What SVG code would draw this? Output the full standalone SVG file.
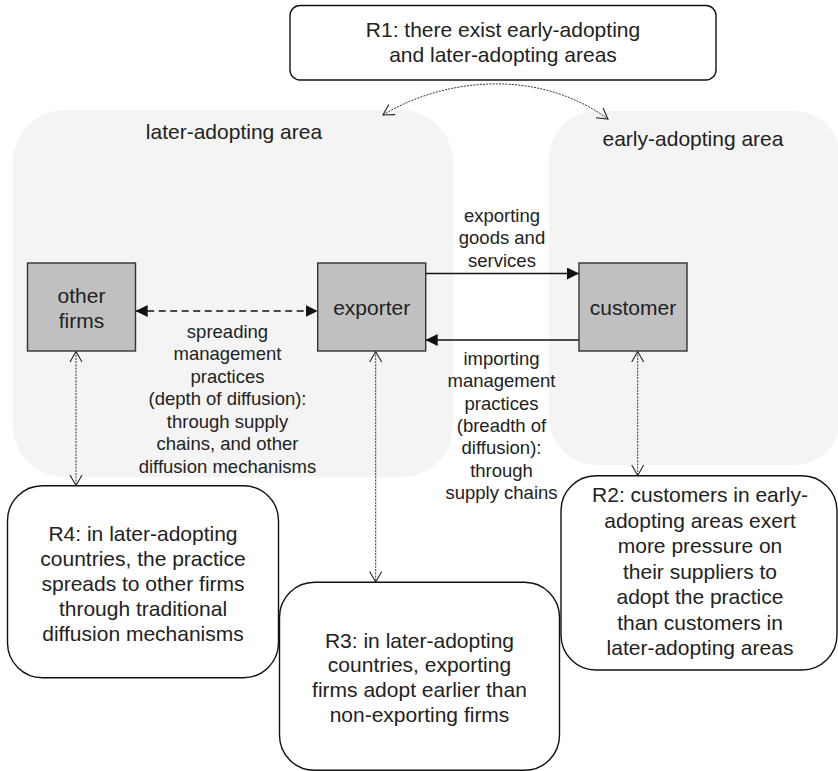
<svg xmlns="http://www.w3.org/2000/svg" width="838" height="771" viewBox="0 0 838 771">
  <style>
    text { font-family: "Liberation Sans", Arial, Helvetica, sans-serif; fill: #222; text-anchor: middle; }
    .area { fill: #f4f4f4; stroke: none; }
    .area-label { font-size: 21px; }
    .firm { fill: #c0c0c0; stroke: #333; stroke-width: 1.4; }
    .firm-label { font-size: 21px; }
    .claim { fill: #fff; stroke: #111; stroke-width: 1.4; }
    .claim-label { font-size: 21px; }
    .edge-label { font-size: 18.5px; }
    .flow { fill: none; stroke: #111; stroke-width: 1.5; }
    .dashed { stroke-dasharray: 7 4.5; }
    .link { fill: none; stroke: #333; stroke-width: 1; stroke-dasharray: 2 1.2; }
  </style>
  <defs>
    <marker id="solid-head" viewBox="0 0 12 12" refX="12" refY="6" markerWidth="12" markerHeight="12" markerUnits="userSpaceOnUse" orient="auto-start-reverse">
      <path d="M0,0 L12,6 L0,12 z" fill="#111"/>
    </marker>
    <marker id="open-head" viewBox="-1 -1 13 14" refX="10.5" refY="6" markerWidth="13" markerHeight="14" markerUnits="userSpaceOnUse" orient="auto-start-reverse">
      <path d="M0,0 L10.5,6 L0,12" fill="none" stroke="#222" stroke-width="1.1"/>
    </marker>
  </defs>

  <!-- regions -->
  <g id="later-adopting-area">
    <rect class="area" x="13" y="110" width="440" height="367" rx="52" ry="52"/>
    <text class="area-label" x="234" y="139">later-adopting area</text>
  </g>
  <g id="early-adopting-area">
    <rect class="area" x="549" y="111" width="292" height="354" rx="48" ry="48"/>
    <text class="area-label" x="693" y="146">early-adopting area</text>
  </g>

  <!-- connectors -->
  <g id="connectors">
    <path class="flow dashed" d="M135.7,311 L317.7,311" marker-start="url(#solid-head)" marker-end="url(#solid-head)"/>
    <path class="flow" d="M425.7,273.5 L579,273.5" marker-end="url(#solid-head)"/>
    <path class="flow" d="M579,340 L425.7,340" marker-end="url(#solid-head)"/>
    <path class="link" d="M383,115 C440,80 535,66 608,119" marker-start="url(#open-head)" marker-end="url(#open-head)"/>
    <path class="link" d="M76,351.5 L76,485.5" marker-start="url(#open-head)" marker-end="url(#open-head)"/>
    <path class="link" d="M375.7,351.5 L375.7,582" marker-start="url(#open-head)" marker-end="url(#open-head)"/>
    <path class="link" d="M637.7,351.5 L637.7,475.5" marker-start="url(#open-head)" marker-end="url(#open-head)"/>
  </g>

  <!-- connector labels -->
  <g id="label-exporting">
    <text class="edge-label" x="502" y="221.5">exporting</text>
    <text class="edge-label" x="502" y="244">goods and</text>
    <text class="edge-label" x="502" y="266.5">services</text>
  </g>
  <g id="label-spreading">
    <text class="edge-label" x="227.5" y="337.5">spreading</text>
    <text class="edge-label" x="227.5" y="360">management</text>
    <text class="edge-label" x="227.5" y="382.5">practices</text>
    <text class="edge-label" x="227.5" y="405">(depth of diffusion):</text>
    <text class="edge-label" x="227.5" y="427.5">through supply</text>
    <text class="edge-label" x="227.5" y="450">chains, and other</text>
    <text class="edge-label" x="227.5" y="472.5">diffusion mechanisms</text>
  </g>
  <g id="label-importing">
    <text class="edge-label" x="501.5" y="364.7">importing</text>
    <text class="edge-label" x="501.5" y="387.1">management</text>
    <text class="edge-label" x="501.5" y="409.5">practices</text>
    <text class="edge-label" x="501.5" y="431.9">(breadth of</text>
    <text class="edge-label" x="501.5" y="454.3">diffusion):</text>
    <text class="edge-label" x="501.5" y="476.7">through</text>
    <text class="edge-label" x="501.5" y="499.1">supply chains</text>
  </g>

  <!-- firms -->
  <g id="other-firms">
    <rect class="firm" x="27.5" y="263" width="108" height="88"/>
    <text class="firm-label" x="81.5" y="303">other</text>
    <text class="firm-label" x="81.5" y="327.5">firms</text>
  </g>
  <g id="exporter">
    <rect class="firm" x="317.7" y="263" width="108" height="88"/>
    <text class="firm-label" x="371.7" y="315">exporter</text>
  </g>
  <g id="customer">
    <rect class="firm" x="579" y="263" width="108" height="88"/>
    <text class="firm-label" x="633" y="315">customer</text>
  </g>

  <!-- claims -->
  <g id="r1">
    <rect class="claim" x="290" y="5.5" width="426" height="74.5" rx="10" ry="10"/>
    <text class="claim-label" x="503" y="36.5">R1: there exist early-adopting</text>
    <text class="claim-label" x="503" y="61.5">and later-adopting areas</text>
  </g>
  <g id="r4">
    <rect class="claim" x="7.5" y="485.7" width="271" height="192" rx="35" ry="35"/>
    <text class="claim-label" x="143" y="540.5">R4: in later-adopting</text>
    <text class="claim-label" x="143" y="565.5">countries, the practice</text>
    <text class="claim-label" x="143" y="590.5">spreads to other firms</text>
    <text class="claim-label" x="143" y="615.5">through traditional</text>
    <text class="claim-label" x="143" y="640.5">diffusion mechanisms</text>
  </g>
  <g id="r3">
    <rect class="claim" x="279.5" y="582.3" width="280" height="188" rx="35" ry="35"/>
    <text class="claim-label" x="419.5" y="647.5">R3: in later-adopting</text>
    <text class="claim-label" x="419.5" y="672">countries, exporting</text>
    <text class="claim-label" x="419.5" y="696.5">firms adopt earlier than</text>
    <text class="claim-label" x="419.5" y="721.5">non-exporting firms</text>
  </g>
  <g id="r2">
    <rect class="claim" x="561" y="475.7" width="276" height="194.3" rx="35" ry="35"/>
    <text class="claim-label" x="700" y="502">R2: customers in early-</text>
    <text class="claim-label" x="700" y="527.5">adopting areas exert</text>
    <text class="claim-label" x="700" y="553">more pressure on</text>
    <text class="claim-label" x="700" y="578.5">their suppliers to</text>
    <text class="claim-label" x="700" y="604">adopt the practice</text>
    <text class="claim-label" x="700" y="629.5">than customers in</text>
    <text class="claim-label" x="700" y="655">later-adopting areas</text>
  </g>
</svg>
